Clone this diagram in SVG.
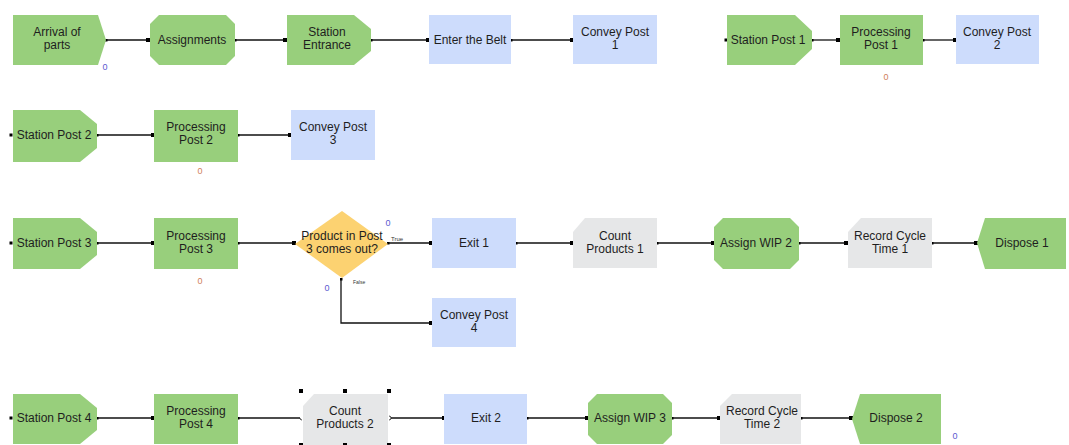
<svg xmlns="http://www.w3.org/2000/svg" width="1069" height="445" viewBox="0 0 1069 445">
<style>
.g{fill:#98cf7c;stroke:none}
.b{fill:#cddcfc;stroke:none}
.y{fill:#fcd271;stroke:none}
.k{fill:#e6e7e8;stroke:none}
text{font-family:"Liberation Sans",Arial,sans-serif;font-size:12px;fill:#1e1e1e;text-anchor:middle}
.c path,.c line{stroke:#111;stroke-width:1.3;fill:none}
.z{font-size:9px;fill:#5a5ad0}
.o{font-size:9px;fill:#d0805a}
.t{font-size:6px;fill:#333;text-anchor:start}
.h{fill:#000}
</style>
<defs>
<marker id="d" viewBox="0 0 4 4" refX="2" refY="2" markerWidth="4" markerHeight="4" markerUnits="userSpaceOnUse"><rect width="4" height="4" fill="#000"/></marker>
<marker id="s" viewBox="0 0 4 4" refX="2" refY="2" markerWidth="3" markerHeight="3" markerUnits="userSpaceOnUse"><rect width="4" height="4" fill="#000"/></marker>
</defs>
<rect width="1069" height="445" fill="#fff"/>

<g class="c" id="connectors">
<line x1="106" y1="40" x2="148" y2="40" marker-start="url(#s)" marker-end="url(#d)"/>
<line x1="235" y1="40" x2="285" y2="40" marker-start="url(#s)" marker-end="url(#d)"/>
<line x1="371" y1="40" x2="428" y2="40" marker-start="url(#s)" marker-end="url(#d)"/>
<line x1="511" y1="40" x2="572" y2="40" marker-start="url(#s)" marker-end="url(#d)"/>
<line x1="812" y1="40" x2="838" y2="40" marker-start="url(#s)" marker-end="url(#d)"/>
<line x1="923" y1="40" x2="955" y2="40" marker-start="url(#s)" marker-end="url(#d)"/>
<line x1="97" y1="135" x2="153" y2="135" marker-start="url(#s)" marker-end="url(#d)"/>
<line x1="238" y1="135" x2="290" y2="135" marker-start="url(#s)" marker-end="url(#d)"/>
<line x1="97" y1="243" x2="153" y2="243" marker-start="url(#s)" marker-end="url(#d)"/>
<line x1="238" y1="243" x2="294" y2="243" marker-start="url(#s)" marker-end="url(#d)"/>
<line x1="388" y1="243" x2="431" y2="243" marker-start="url(#s)" marker-end="url(#d)"/>
<line x1="516" y1="243" x2="572" y2="243" marker-start="url(#s)" marker-end="url(#d)"/>
<line x1="657" y1="243" x2="713" y2="243" marker-start="url(#s)" marker-end="url(#d)"/>
<line x1="799" y1="243" x2="846" y2="243" marker-start="url(#s)" marker-end="url(#d)"/>
<line x1="932" y1="243" x2="976" y2="243" marker-start="url(#s)" marker-end="url(#d)"/>
<path d="M431,323 H341 V279" marker-start="url(#d)" marker-end="url(#s)"/>
<line x1="97" y1="418" x2="153" y2="418" marker-start="url(#s)" marker-end="url(#d)"/>
<line x1="238" y1="418" x2="300" y2="418" marker-start="url(#s)"/>
<line x1="391" y1="418" x2="444" y2="418" marker-end="url(#d)"/>
<path d="M300,418 a2,2 0 0 0 2,2 M389,416 a2,2 0 0 1 0,4" style="stroke-width:0.8"/>
<line x1="527" y1="418" x2="587" y2="418" marker-start="url(#s)" marker-end="url(#d)"/>
<line x1="672" y1="418" x2="719" y2="418" marker-start="url(#s)" marker-end="url(#d)"/>
<line x1="801" y1="418" x2="851" y2="418" marker-start="url(#s)" marker-end="url(#d)"/>
<rect x="724.5" y="38.5" width="3" height="3" class="h" style="stroke:none"/>
<rect x="9.5" y="133.5" width="3" height="3" class="h" style="stroke:none"/>
<rect x="9.5" y="241.5" width="3" height="3" class="h" style="stroke:none"/>
<rect x="9.5" y="416.5" width="3" height="3" class="h" style="stroke:none"/>
</g>

<g id="arrival">
<path class="g" d="M13,15 H98 L106,40 L98,65 H13 Z"/>
<text x="57" y="36">Arrival of</text><text x="57" y="49">parts</text>
<text class="z" x="105" y="70">0</text>
</g>
<g id="assignments">
<path class="g" d="M159,15 H226 L235,24 V56 L226,65 H159 L150,56 V24 Z"/>
<text x="192" y="44">Assignments</text>
</g>
<g id="station-entrance">
<path class="g" d="M287,15 H354 L371,29 V51 L354,65 H287 Z"/>
<text x="327" y="36">Station</text><text x="327" y="49">Entrance</text>
</g>
<g id="enter-belt">
<rect class="b" x="429" y="15" width="82" height="49"/>
<text x="470" y="44">Enter the Belt</text>
</g>
<g id="convey1">
<rect class="b" x="573" y="15" width="84" height="49"/>
<text x="615" y="36">Convey Post</text><text x="615" y="49">1</text>
</g>
<g id="station1">
<path class="g" d="M727,15 H795 L812,31 V49 L795,65 H727 Z"/>
<text x="768" y="44">Station Post 1</text>
</g>
<g id="processing1">
<rect class="g" x="840" y="15" width="83" height="50"/>
<text x="881" y="36">Processing</text><text x="881" y="49">Post 1</text>
<text class="o" x="886" y="80">0</text>
</g>
<g id="convey2">
<rect class="b" x="956" y="15" width="83" height="49"/>
<text x="997" y="36">Convey Post</text><text x="997" y="49">2</text>
</g>

<g id="station2">
<path class="g" d="M13,110 H80 L97,124 V148 L80,162 H13 Z"/>
<text x="54" y="139">Station Post 2</text>
</g>
<g id="processing2">
<rect class="g" x="154" y="110" width="84" height="52"/>
<text x="196" y="131">Processing</text><text x="196" y="144">Post 2</text>
<text class="o" x="200" y="174">0</text>
</g>
<g id="convey3">
<rect class="b" x="291" y="110" width="84" height="50"/>
<text x="333" y="131">Convey Post</text><text x="333" y="144">3</text>
</g>

<g id="station3">
<path class="g" d="M13,218 H80 L97,232 V255 L80,269 H13 Z"/>
<text x="54" y="247">Station Post 3</text>
</g>
<g id="processing3">
<rect class="g" x="154" y="218" width="84" height="51"/>
<text x="196" y="240">Processing</text><text x="196" y="253">Post 3</text>
<text class="o" x="200" y="284">0</text>
</g>
<g id="decision">
<path class="y" d="M342,211 L388,244 L342,278 L295,244 Z"/>
<text x="342" y="240">Product in Post</text><text x="342" y="253">3 comes out?</text>
<text class="z" x="388" y="226">0</text>
<text class="t" x="391" y="241">True</text>
<text class="t" x="353" y="284" style="font-size:5px">False</text>
<text class="z" x="327" y="291">0</text>
</g>
<g id="exit1">
<rect class="b" x="432" y="218" width="84" height="50"/>
<text x="474" y="247">Exit 1</text>
</g>
<g id="count1">
<path class="k" d="M585,218 H657 V268 H573 V232 Z"/>
<text x="615" y="240">Count</text><text x="615" y="253">Products 1</text>
</g>
<g id="assignwip2">
<path class="g" d="M723,218 H790 L799,227 V260 L790,269 H723 L714,260 V227 Z"/>
<text x="756" y="247">Assign WIP 2</text>
</g>
<g id="record1">
<path class="k" d="M861,218 H932 V268 H848 V232 Z"/>
<text x="890" y="240">Record Cycle</text><text x="890" y="253">Time 1</text>
</g>
<g id="dispose1">
<path class="g" d="M985,218 H1066 V269 H985 L977,243 Z"/>
<text x="1022" y="247">Dispose 1</text>
</g>
<g id="convey4">
<rect class="b" x="432" y="298" width="84" height="49"/>
<text x="474" y="319">Convey Post</text><text x="474" y="332">4</text>
</g>

<g id="station4">
<path class="g" d="M13,394 H80 L97,408 V430 L80,444 H13 Z"/>
<text x="54" y="422">Station Post 4</text>
</g>
<g id="processing4">
<rect class="g" x="154" y="394" width="84" height="50"/>
<text x="196" y="415">Processing</text><text x="196" y="428">Post 4</text>
</g>
<g id="count2">
<path class="k" d="M314,394 H388 V445 H303 V406 Z"/>
<text x="345" y="415">Count</text><text x="345" y="428">Products 2</text>
<rect class="h" x="299" y="389" width="4" height="4"/>
<rect class="h" x="343" y="389" width="4" height="4"/>
<rect class="h" x="387" y="389" width="4" height="4"/>
<rect class="h" x="299" y="443" width="4" height="4"/>
<rect class="h" x="343" y="443" width="4" height="4"/>
<rect class="h" x="387" y="443" width="4" height="4"/>
</g>
<g id="exit2">
<rect class="b" x="444" y="394" width="83" height="50"/>
<text x="486" y="422">Exit 2</text>
</g>
<g id="assignwip3">
<path class="g" d="M597,394 H663 L672,403 V435 L663,444 H597 L588,435 V403 Z"/>
<text x="630" y="422">Assign WIP 3</text>
</g>
<g id="record2">
<path class="k" d="M732,394 H801 V444 H720 V406 Z"/>
<text x="762" y="415">Record Cycle</text><text x="762" y="428">Time 2</text>
</g>
<g id="dispose2">
<path class="g" d="M860,394 H941 V444 H860 L852,419 Z"/>
<text x="896" y="422">Dispose 2</text>
<text class="z" x="955" y="439">0</text>
</g>
</svg>
